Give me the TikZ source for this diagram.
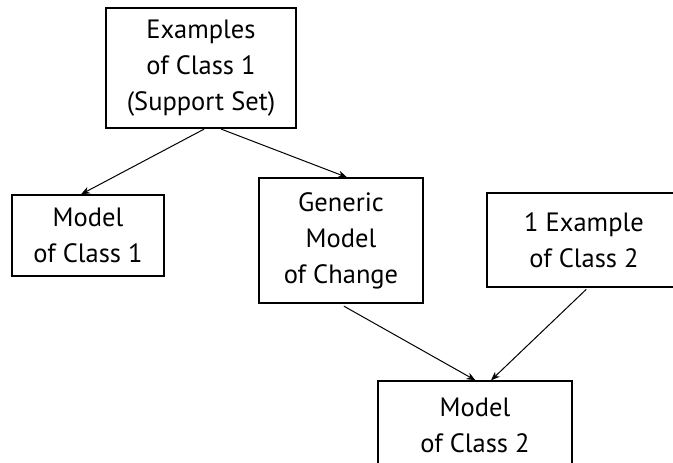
\documentclass[tikz,border=0pt]{standalone}
\usepackage{fontspec}
\setmainfont{PT Sans}
\usetikzlibrary{arrows.meta, calc}
\tikzset{
>={Stealth[length=9pt,width=7pt]},
box/.style={%
    rectangle,
    draw=black,
    line width=1.3pt,
    inner sep=0pt,
    align=center,
    % Font
    font=\fontsize{26.5}{36}\selectfont
},
link/.style={->, line width=1pt, shorten <=1pt},
}
\begin{document}
\begin{tikzpicture}[x=1pt,y=1pt]
	\useasboundingbox (0,0) rectangle (673,463);
	\clip (0,0) rectangle (673,463);
	\node[box, minimum width=190pt, minimum height=120pt] (support) at (201,395) {Examples\\of Class 1\\(Support Set)};
	\node[box, minimum width=152pt, minimum height=81pt] (model1) at (88,227.5) {Model\\of Class 1};
	\node[box, minimum width=164pt, minimum height=125pt] (generic) at (341,222.5) {Generic\\Model\\of Change};
	\node[box, minimum width=194pt, minimum height=94pt] (example2) at (584,223) {1 Example\\of Class 2};
	\node[box, minimum width=194pt, minimum height=88pt] (model2) at (475,38) {Model\\of Class 2};

	\draw[link] ($(support.south)+(4,0)$) -- ($(model1.north)+(-7,0)$);
	\draw[link] ($(support.south)+(19,0)$) -- ($(generic.north)+(6,0)$);
	\draw[link] ($(generic.south)+(2,-2)$) -- ($(model2.north)+(0.5,0)$);
	\draw[link] ($(example2.south)+(3,-1)$) -- ($(model2.north)+(16,0)$);
\end{tikzpicture}
\end{document}
